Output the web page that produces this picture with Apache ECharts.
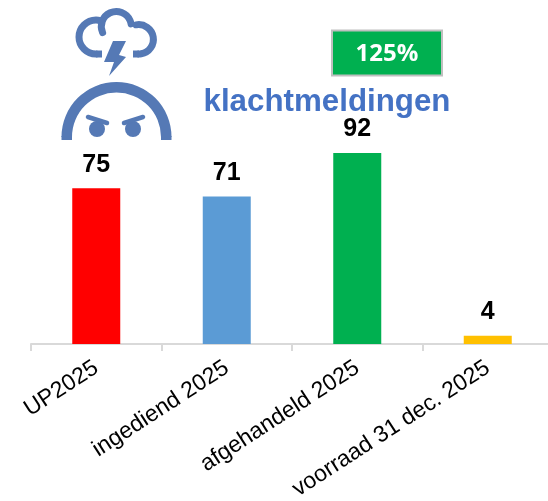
<!DOCTYPE html>
<html>
<head>
<meta charset="utf-8">
<script src="https://cdn.jsdelivr.net/npm/echarts@6/dist/echarts.min.js"></script>
<style>
  html, body { margin: 0; padding: 0; background: #fff; }
  #main { width: 548px; height: 501px; }
</style>
</head>
<body>
<div id="main"></div>
<script>
const categories = ["UP2025", "ingediend 2025", "afgehandeld 2025", "voorraad 31 dec. 2025"];
const values = [75, 71, 92, 4];
const barColors = ["#FF0000", "#5B9BD5", "#00B050", "#FFC000"];
const titleText = "klachtmeldingen";
const badgeText = "125%";

const iconColor = "#5579B5";
const font = "'Liberation Sans', Arial, sans-serif";

function iconArc(cx, cy, r, startDeg, endDeg, width) {
  return {
    type: "arc",
    silent: true,
    shape: { cx: cx, cy: cy, r: r, startAngle: startDeg * Math.PI / 180, endAngle: endDeg * Math.PI / 180, clockwise: true },
    style: { fill: null, stroke: iconColor, lineWidth: width, lineCap: "round" }
  };
}
function iconLine(x1, y1, x2, y2, width, cap) {
  return {
    type: "line",
    silent: true,
    shape: { x1: x1, y1: y1, x2: x2, y2: y2 },
    style: { stroke: iconColor, lineWidth: width, lineCap: cap }
  };
}

let graphics = [
  // wolk
  iconArc(96, 37, 17, 90, 285, 7),
  iconArc(116.3, 26.5, 15, 156, 350, 7),
  iconArc(138.7, 39.3, 14.7, 260, 450, 7),
  iconLine(96, 54, 102, 54, 7, "butt"),
  iconLine(133, 54, 139, 54, 7, "butt"),
  // bliksem
  {
    type: "polygon",
    silent: true,
    shape: { points: [[113, 41], [126, 41], [119, 55], [126, 57], [109, 76], [114, 62], [104, 62]] },
    style: { fill: iconColor }
  },
  // gezicht
  {
    type: "sector",
    silent: true,
    shape: { cx: 116.5, cy: 137, r: 55, r0: 44.5, startAngle: Math.PI, endAngle: Math.PI * 2 },
    style: { fill: iconColor }
  },
  { type: "rect", silent: true, shape: { x: 61.5, y: 136, width: 10.5, height: 4 }, style: { fill: iconColor } },
  { type: "rect", silent: true, shape: { x: 161, y: 136, width: 10.5, height: 4 }, style: { fill: iconColor } },
  { type: "circle", silent: true, shape: { cx: 97, cy: 129, r: 8 }, style: { fill: iconColor } },
  { type: "circle", silent: true, shape: { cx: 133, cy: 129, r: 8 }, style: { fill: iconColor } },
  iconLine(88, 117, 107, 123, 4.5, "round"),
  iconLine(124, 123, 143, 117, 4.5, "round"),
  // percentage
  {
    type: "rect",
    silent: true,
    shape: { x: 332, y: 30.5, width: 110, height: 45 },
    style: { fill: "#00B050", stroke: "#BFBFBF", lineWidth: 2 }
  },
  {
    type: "text",
    silent: true,
    x: 387,
    y: 54,
    style: {
      text: badgeText,
      fill: "#fff",
      font: "bold 24px 'Open Sans', sans-serif",
      textAlign: "center",
      textVerticalAlign: "middle"
    }
  }
];

let option = {
  animation: false,
  backgroundColor: "#fff",
  title: {
    text: titleText,
    left: 203.5,
    top: 87,
    padding: 0,
    textStyle: { color: "#4472C4", fontFamily: font, fontWeight: "bold", fontSize: 31.3 }
  },
  grid: { left: 31, top: 136.4, width: 522, height: 207.6, containLabel: false, outerBoundsMode: "none" },
  xAxis: {
    type: "category",
    data: categories,
    axisLine: { lineStyle: { color: "#D9D9D9", width: 2 } },
    axisTick: { show: true, length: 7, lineStyle: { color: "#D9D9D9", width: 2 } },
    axisLabel: {
      interval: 0,
      rotate: 33,
      margin: 22,
      color: "#000",
      fontFamily: font,
      fontSize: 23,
      hideOverlap: false
    }
  },
  yAxis: { type: "value", min: 0, max: 100, show: false, splitLine: { show: false } },
  series: [
    {
      type: "bar",
      data: values,
      barWidth: 48,
      itemStyle: { color: function(p) { return barColors[p.dataIndex]; } },
      label: {
        show: true,
        position: "top",
        distance: 11,
        color: "#000",
        fontFamily: font,
        fontWeight: "bold",
        fontSize: 25
      }
    }
  ],
  graphic: { elements: graphics }
};

let myChart = echarts.init(document.getElementById("main"), null, { renderer: "canvas" });
myChart.setOption(option);
</script>
</body>
</html>
